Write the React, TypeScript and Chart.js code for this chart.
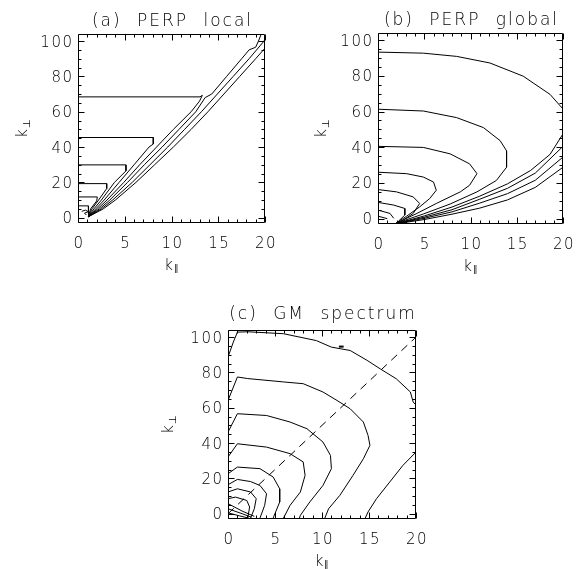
import React, { useEffect, useRef } from 'react';
import { Chart, registerables } from 'chart.js';

Chart.register(...registerables);

type Pt = [number, number];

// ---------- shared axes ----------
const xTicks = [0, 5, 10, 15, 20];
const yTicks = [0, 20, 40, 60, 80, 100];
const xMinor = [1, 2, 3, 4, 6, 7, 8, 9, 11, 12, 13, 14, 16, 17, 18, 19];
const yMinor = [5, 10, 15, 25, 30, 35, 45, 50, 55, 65, 70, 75, 85, 90, 95];
const xMin = 0, xMax = 20, yMin = -3, yMax = 104;

// ---------- (a) PERP local ----------
const aTitle = '(a) PERP local';
const aH1: Pt[] = [[0, 68.4], [13.05, 68.4], [13.3, 69.3], [13.0, 66], [12.1, 60], [10.2, 50], [8.4, 40], [6.6, 30], [4.9, 20], [3.1, 10], [2.1, 5], [1.1, 0.5]];
const aH2: Pt[] = [[0, 45.4], [8.05, 45.4], [8.05, 41.7], [7.6, 40], [6.0, 30], [4.4, 20], [2.8, 10], [1.9, 5], [1.1, 0.5]];
const aH3: Pt[] = [[0, 29.9], [5.13, 29.9], [5.13, 26.5], [3.9, 20], [2.5, 10], [1.7, 5], [1.1, 0.5]];
const aH4: Pt[] = [[0, 19.3], [3.07, 19.3], [3.07, 16.5], [2.2, 10], [1.5, 5], [1.1, 0.5]];
const aH5: Pt[] = [[0, 11.75], [2.07, 11.75], [2.0, 9.5], [1.35, 5], [1.1, 0.5]];
const aH6: Pt[] = [[0, 6.7], [1.1, 6.7], [1.15, 4.5], [1.1, 0.5]];
const aH7: Pt[] = [[0.4, 3.6], [0.8, 4.3], [1.1, 3.4], [0.7, 2.6], [0.9, 1.5]];
const aW: Pt[] = [[1.1, 0.5], [2.3, 5], [3.4, 10], [5.3, 20], [7.1, 30], [9.0, 40], [10.8, 50], [12.6, 60], [13.6, 68], [14.3, 70], [15.9, 80], [17.5, 90], [18.3, 95], [19.0, 96.5], [19.3, 100], [19.6, 104]];
const aS2: Pt[] = [[1.1, 0.5], [2.5, 5], [3.7, 10], [5.8, 20], [7.7, 30], [9.6, 40], [11.4, 50], [13.2, 60], [14.9, 70], [16.6, 80], [18.3, 90], [19.9, 100], [20.2, 104]];
const aS1: Pt[] = [[1.1, 0.5], [2.7, 5], [4.0, 10], [6.2, 20], [8.2, 30], [10.2, 40], [12.1, 50], [13.9, 60], [15.6, 70], [17.3, 80], [19.0, 90], [20, 96], [20.2, 97]];

// ---------- (b) PERP global ----------
const bTitle = '(b) PERP global';
const bA1: Pt[] = [[0, 93.3], [4.9, 92.7], [8.5, 90.9], [12.1, 87.2], [15.7, 79.8], [18.6, 69.6], [20, 61.4]];
const bA2: Pt[] = [[0, 61.3], [4.9, 60.3], [8.5, 56.6], [11.4, 51], [13.2, 43.7], [13.9, 38], [13.9, 28.8], [12.8, 21.4], [10.7, 15], [7.8, 8.2], [4.9, 2.6], [1.9, -2.7]];
const bA3: Pt[] = [[0, 40.5], [4.9, 39.9], [7.8, 36.3], [9.9, 30.7], [10.7, 25.2], [9.9, 18.7], [8.9, 15], [6.3, 8.5], [4.2, 2.9], [1.9, -2.7]];
const bA4: Pt[] = [[0, 26], [3.1, 25.2], [4.9, 23.3], [6, 20.5], [6.3, 15.9], [5.6, 11.3], [4.5, 6.6], [3.1, 1.4], [1.9, -2.7]];
const bA5: Pt[] = [[0, 16.3], [2, 15], [3.8, 12.2], [4.5, 8.5], [3.8, 2.9], [2.3, -2.2]];
const bA6: Pt[] = [[0, 9.1], [1.7, 7.6], [2.9, 5.7], [2.9, 2], [2.2, -1.5]];
const bA7: Pt[] = [[0, 4.8], [1.3, 2.9], [1.7, 0.2]];
const bA8: Pt[] = [[0, 1.4], [1, 0]];
const bR1: Pt[] = [[1.8, -3], [5, 1.5], [8, 6.5], [11, 12.6], [14, 19.5], [16.5, 27], [18.6, 36], [20, 47.5]];
const bR2: Pt[] = [[1.8, -3], [5, 0.8], [8, 5], [11, 10.9], [14, 17], [17, 25.5], [20, 40.5]];
const bR3: Pt[] = [[1.8, -3], [5, 0.2], [8, 3.8], [11, 8.7], [14, 14], [17, 21.5], [20, 34.5]];
const bR4: Pt[] = [[1.8, -3], [5, -0.5], [8, 2.5], [11, 5.9], [14, 10.5], [17, 17.5], [20, 28.8]];

// ---------- (c) GM spectrum ----------
const cTitle = '(c) GM spectrum';
const cC1: Pt[] = [[0, 88.7], [0.57, 97.2], [1, 102.8], [2.1, 103], [5.9, 101.9], [9.4, 98], [11, 94.3], [13, 92.4], [14.8, 86.8], [16.2, 82], [17.9, 76.4], [19.4, 68.9], [19.7, 63.2], [20, 61.5]];
const cC1b: Pt[] = [[20, 34.9], [18.6, 27.3], [17.2, 17.9], [15.8, 8.5], [14.9, 1], [14.6, -2.5]];
const cC2: Pt[] = [[0, 64.1], [1, 77.4], [2.1, 76.5], [5.9, 74.6], [8, 73.6], [10.1, 68.9], [11.6, 64.1], [13, 59.4], [14.4, 51.9], [14.9, 44.3], [15.1, 38.7], [14.4, 31.1], [13.3, 21.7], [11.9, 10.4], [10.7, 2.8], [10.3, -2.5]];
const cC3: Pt[] = [[0, 46.2], [1, 56.6], [4.1, 55.6], [6.6, 51.9], [8.4, 48.1], [10.1, 40.6], [10.9, 33], [11, 25.5], [10.1, 16], [8.7, 6.6], [7.7, -0.9], [7.6, -2.5]];
const cC4: Pt[] = [[0, 32.1], [1, 39.6], [4.1, 37.7], [6.6, 34], [8, 29.3], [8.2, 21.7], [7.7, 12.3], [6.6, 4.7], [5.9, -2.5]];
const cC5: Pt[] = [[0, 22.6], [1, 26.4], [3.4, 25.5], [4.8, 20.8], [5.5, 14.1], [5.5, 6.6], [4.8, -2.5]];
const cC6: Pt[] = [[0, 16.4], [1, 19.4], [2.4, 18.2], [3.4, 16], [4.1, 11.3], [3.9, 4.7], [3.4, -2.5]];
const cC7: Pt[] = [[0, 12.3], [1, 14.1], [2.4, 12.3], [3, 8.5], [2.8, 2.8], [2.4, -2.5]];
const cC8: Pt[] = [[0, 8.5], [0.8, 9.4], [2, 7.5], [2.3, 3.8], [2.1, -2.5]];
const cF1: Pt[] = [[0, 5.7], [1.5, 1.5], [2.8, -1.5]];
const cF2: Pt[] = [[0, 2.8], [1.5, 0], [2.5, -2]];
const cF3: Pt[] = [[0, 0.5], [1.2, -1.2], [2.2, -2.5]];
const cDot: Pt[] = [[11.8, 94.6], [12.3, 94.6]];
const cDiag: Pt[] = [[0, 0], [20, 100]];

const aLines = [aH1, aH2, aH3, aH4, aH5, aH6, aH7, aW, aS2, aS1];
const bLines = [bA1, bA2, bA3, bA4, bA5, bA6, bA7, bA8, bR1, bR2, bR3, bR4];
const cLines = [cC1, cC1b, cC2, cC3, cC4, cC5, cC6, cC7, cC8, cF1, cF2, cF3];

const FONT = '"DejaVu Sans", sans-serif';
const W = 200;

interface PanelCfg {
  title: string;
  lines: Pt[][];
  dashed?: Pt[][];
  thick?: Pt[][];
  left: number; top: number; w: number; h: number;
  pad: { left: number; right: number; top: number; bottom: number };
  titleGap: number;
  yTitleGap: number;
}

function makePlugin(cfg: PanelCfg) {
  return {
    id: 'idlFrame',
    afterDraw(chart: any) {
      const ctx: CanvasRenderingContext2D = chart.ctx;
      const a = chart.chartArea;
      const sx = chart.scales.x;
      const sy = chart.scales.y;
      ctx.save();
      ctx.strokeStyle = '#000';
      ctx.fillStyle = '#000';
      ctx.lineWidth = 1;
      const L = Math.round(a.left) + 0.5, R = Math.round(a.right) - 0.5;
      const T = Math.round(a.top) + 0.5, B = Math.round(a.bottom) - 0.5;
      ctx.beginPath();
      ctx.rect(L, T, R - L, B - T);
      ctx.stroke();
      ctx.beginPath();
      const tick = (vals: number[], len: number) => {
        vals.forEach((v) => {
          const p = Math.round(sx.getPixelForValue(v)) + 0.5;
          ctx.moveTo(p, B); ctx.lineTo(p, B - len);
          ctx.moveTo(p, T); ctx.lineTo(p, T + len);
        });
      };
      const tickY = (vals: number[], len: number) => {
        vals.forEach((v) => {
          const p = Math.round(sy.getPixelForValue(v)) + 0.5;
          ctx.moveTo(L, p); ctx.lineTo(L + len, p);
          ctx.moveTo(R, p); ctx.lineTo(R - len, p);
        });
      };
      tick(xTicks, 6); tick(xMinor, 3);
      tickY(yTicks, 6); tickY(yMinor, 3);
      ctx.stroke();

      // tick labels
      ctx.font = `${W} 15px ${FONT}`;
      (ctx as any).letterSpacing = '1.5px';
      ctx.textBaseline = 'alphabetic';
      ctx.textAlign = 'center';
      xTicks.forEach((v) => {
        ctx.fillText(String(v), sx.getPixelForValue(v) + 1, a.bottom + 25);
      });
      ctx.textAlign = 'right';
      yTicks.forEach((v) => {
        ctx.fillText(String(v), a.left - 4.5, sy.getPixelForValue(v) + 5.5);
      });

      // title
      ctx.font = `${W} 17px ${FONT}`;
      (ctx as any).letterSpacing = '2px';
      (ctx as any).wordSpacing = '8px';
      ctx.textAlign = 'center';
      ctx.fillText(cfg.title, (a.left + a.right) / 2 + 1, a.top - cfg.titleGap);

      // x axis title: k with parallel subscript
      (ctx as any).letterSpacing = '0px';
      (ctx as any).wordSpacing = '0px';
      const cx = (a.left + a.right) / 2;
      ctx.font = `${W} 15px ${FONT}`;
      ctx.textAlign = 'left';
      const kw = ctx.measureText('k').width;
      ctx.font = `${W} 9px ${FONT}`;
      const sw = ctx.measureText('\u2225').width;
      const x0 = cx - (kw + sw + 1) / 2;
      const by = a.bottom + 47;
      ctx.font = `${W} 15px ${FONT}`;
      ctx.fillText('k', x0, by);
      ctx.font = `${W} 9px ${FONT}`;
      ctx.fillText('\u2225', x0 + kw + 1, by + 1);

      // y axis title: k with perp subscript (rotated)
      ctx.save();
      ctx.translate(a.left - cfg.yTitleGap, (a.top + a.bottom) / 2);
      ctx.rotate(-Math.PI / 2);
      ctx.font = `${W} 15px ${FONT}`;
      const kw2 = ctx.measureText('k').width;
      ctx.font = `${W} 10px ${FONT}`;
      const sw2 = ctx.measureText('\u22A5').width;
      const x1 = -(kw2 + sw2 + 1) / 2;
      ctx.font = `${W} 15px ${FONT}`;
      ctx.fillText('k', x1, 0);
      ctx.font = `${W} 10px ${FONT}`;
      ctx.fillText('\u22A5', x1 + kw2 + 1, 3);
      ctx.restore();

      ctx.restore();
    },
  };
}

function toData(pts: Pt[]) {
  return pts.map(([x, y]) => ({ x, y }));
}

function Panel({ cfg }: { cfg: PanelCfg }) {
  const ref = useRef<HTMLCanvasElement | null>(null);
  useEffect(() => {
    if (!ref.current) return;
    const datasets: any[] = [];
    cfg.lines.forEach((l) =>
      datasets.push({ data: toData(l), borderColor: '#000', borderWidth: 1, pointRadius: 0, showLine: true, tension: 0, fill: false })
    );
    (cfg.dashed || []).forEach((l) =>
      datasets.push({ data: toData(l), borderColor: '#000', borderWidth: 1, borderDash: [8, 6], pointRadius: 0, showLine: true, tension: 0, fill: false })
    );
    (cfg.thick || []).forEach((l) =>
      datasets.push({ data: toData(l), borderColor: '#000', borderWidth: 2, pointRadius: 0, showLine: true, tension: 0, fill: false })
    );
    const chart = new Chart(ref.current, {
      type: 'scatter',
      data: { datasets },
      options: {
        animation: false,
        responsive: false,
        devicePixelRatio: 1,
        layout: { padding: cfg.pad },
        plugins: { legend: { display: false }, title: { display: false }, tooltip: { enabled: false } },
        events: [],
        scales: {
          x: {
            type: 'linear', min: xMin, max: xMax,
            grid: { display: false, drawTicks: false },
            border: { display: false },
            afterBuildTicks: (s: any) => { s.ticks = xTicks.map((v) => ({ value: v })); },
            afterFit: (s: any) => { s.height = 0; },
            ticks: { display: false },
          },
          y: {
            type: 'linear', min: yMin, max: yMax,
            grid: { display: false, drawTicks: false },
            border: { display: false },
            afterBuildTicks: (s: any) => { s.ticks = yTicks.map((v) => ({ value: v })); },
            afterFit: (s: any) => { s.width = 0; },
            ticks: { display: false },
          },
        },
      } as any,
      plugins: [makePlugin(cfg)],
    });
    return () => chart.destroy();
  }, [cfg]);
  return (
    <canvas
      ref={ref}
      width={cfg.w}
      height={cfg.h}
      style={{ position: 'absolute', left: cfg.left, top: cfg.top, width: cfg.w, height: cfg.h }}
    />
  );
}

const panels: PanelCfg[] = [
  { title: aTitle, lines: aLines, left: 0, top: 0, w: 292, h: 290, pad: { left: 78, right: 27, top: 34, bottom: 67 }, titleGap: 8, yTitleGap: 51 },
  { title: bTitle, lines: bLines, left: 292, top: 0, w: 292, h: 290, pad: { left: 86, right: 21, top: 33, bottom: 66 }, titleGap: 8, yTitleGap: 52 },
  { title: cTitle, lines: cLines, dashed: [cDiag], thick: [cDot], left: 146, top: 285, w: 292, h: 284, pad: { left: 82, right: 22, top: 45, bottom: 50 }, titleGap: 11, yTitleGap: 55 },
];

export default function App() {
  return (
    <div style={{ position: 'absolute', left: 0, top: 0, width: 584, height: 569, background: '#fff' }}>
      {panels.map((p, i) => (
        <Panel key={i} cfg={p} />
      ))}
    </div>
  );
}
